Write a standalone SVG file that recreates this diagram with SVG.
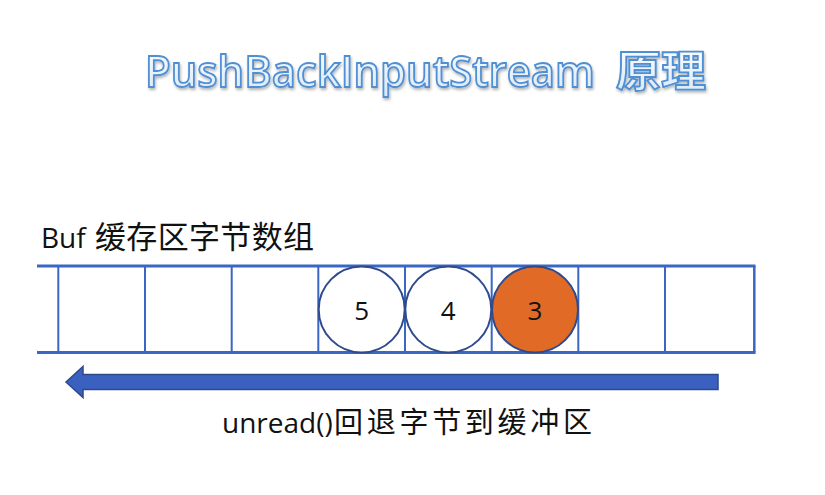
<svg xmlns="http://www.w3.org/2000/svg" width="825" height="495" viewBox="0 0 825 495">
<defs>
<linearGradient id="tg" x1="0" y1="0" x2="0" y2="1">
<stop offset="0" stop-color="#ffffff"/>
<stop offset="1" stop-color="#d6e6f8"/>
</linearGradient>
<filter id="sh" x="-5%" y="-20%" width="110%" height="150%">
<feGaussianBlur in="SourceAlpha" stdDeviation="1.5"/>
<feOffset dx="1" dy="2" result="b"/>
<feComponentTransfer><feFuncA type="linear" slope="0.3"/></feComponentTransfer>
<feMerge><feMergeNode/><feMergeNode in="SourceGraphic"/></feMerge>
</filter>
</defs>
<style>
.title{font-family:"Open Sans","Noto Sans CJK SC",sans-serif;font-size:43px;font-weight:600;fill:url(#tg);stroke:#4f8fd3;stroke-width:1.8px}
.lbl{font-family:"Open Sans","Noto Sans","Noto Sans CJK SC",sans-serif;fill:#111}
.cjk{font-family:"Noto Sans CJK SC",sans-serif;fill:#111}
.num{font-family:"Open Sans","Noto Sans",sans-serif;font-size:26px;fill:#111;text-anchor:middle}
.grid{stroke:#3a66c4;fill:none}
.cell{fill:#fff;stroke:#2f4b8d;stroke-width:2}
</style>
<rect width="825" height="495" fill="#fff"/>
<g id="title" filter="url(#sh)">
<text class="title" x="145" y="87"><tspan textLength="450" lengthAdjust="spacingAndGlyphs">PushBackInputStream</tspan><tspan x="616" textLength="90" lengthAdjust="spacingAndGlyphs">原理</tspan></text>
</g>
<g id="buf-label">
<text class="lbl" x="41" y="248" font-size="28">Buf</text>
<text class="cjk" x="95" y="248" font-size="31" textLength="219" lengthAdjust="spacing">缓存区字节数组</text>
</g>
<g id="buffer" class="grid">
<line x1="37" y1="266" x2="755.5" y2="266" stroke-width="3"/>
<line x1="37" y1="352.5" x2="755.5" y2="352.5" stroke-width="3"/>
<g stroke-width="2">
<line x1="58.3" y1="266" x2="58.3" y2="352.5"/>
<line x1="145" y1="266" x2="145" y2="352.5"/>
<line x1="231.7" y1="266" x2="231.7" y2="352.5"/>
<line x1="318.3" y1="266" x2="318.3" y2="352.5"/>
<line x1="405" y1="266" x2="405" y2="352.5"/>
<line x1="491.7" y1="266" x2="491.7" y2="352.5"/>
<line x1="578.3" y1="266" x2="578.3" y2="352.5"/>
<line x1="665" y1="266" x2="665" y2="352.5"/>
<line x1="754.3" y1="266" x2="754.3" y2="352.5" stroke-width="2.5"/>
</g>
</g>
<g id="byte5">
<circle class="cell" cx="361.7" cy="309.5" r="43"/>
<text class="num" x="361.7" y="320">5</text>
</g>
<g id="byte4">
<circle class="cell" cx="448.3" cy="309.5" r="43"/>
<text class="num" x="448.3" y="320">4</text>
</g>
<g id="byte3">
<circle class="cell" cx="535" cy="309.5" r="43" style="fill:#e06a26"/>
<text class="num" x="535" y="320">3</text>
</g>
<g id="connectors">
<polygon points="66,382 83,366.5 83,374.5 718,374.5 718,389.5 83,389.5 83,397.5" fill="#3a60c0" stroke="#2e4a8a" stroke-width="1.5" stroke-linejoin="miter"/>
</g>
<g id="unread-label">
<text class="lbl" x="222" y="433" font-size="28">unread()</text>
<text class="cjk" x="334" y="433" font-size="29" textLength="258" lengthAdjust="spacing">回退字节到缓冲区</text>
</g>
</svg>
